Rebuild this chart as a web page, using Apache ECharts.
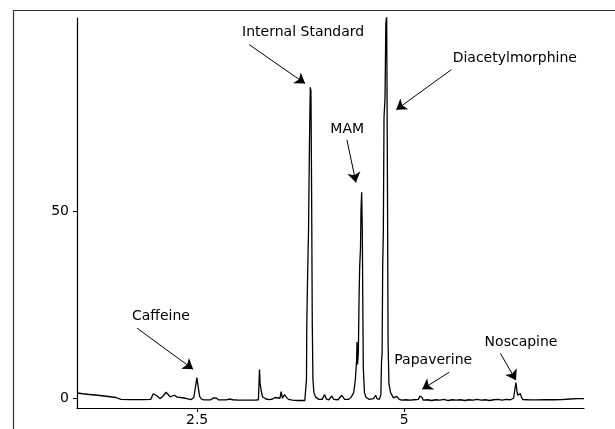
<!DOCTYPE html>
<html>
<head>
<meta charset="utf-8">
<script src="https://cdn.jsdelivr.net/npm/echarts@6/dist/echarts.min.js"></script>
<style>
  html, body { margin: 0; padding: 0; background: #fff; }
  #main { width: 615px; height: 429px; }
</style>
</head>
<body>
<div id="main"></div>
<script>
// retention time (min) and detector response
const times = [
  1.05, 1.12, 1.20, 1.30, 1.38, 1.45, 1.52, 1.58, 1.70, 1.85, 1.94, 1.97, 1.99, 2.02, 2.05, 2.09,
  2.125, 2.15, 2.175, 2.20, 2.225, 2.26, 2.30, 2.36, 2.43, 2.46, 2.48, 2.497, 2.51, 2.53, 2.55, 2.58,
  2.66, 2.70, 2.717, 2.735, 2.76, 2.85, 2.89, 2.907, 2.93, 3.00, 3.10, 3.20, 3.24, 3.247, 3.253, 3.26,
  3.275, 3.29, 3.33, 3.373, 3.41, 3.44, 3.462, 3.50, 3.514, 3.53, 3.554, 3.575, 3.603, 3.65, 3.72, 3.80,
  3.815, 3.820, 3.824, 3.834, 3.845, 3.856, 3.866, 3.874, 3.882, 3.890, 3.898, 3.91, 3.93, 3.97, 4.01,
  4.038, 4.06, 4.09, 4.125, 4.15, 4.20, 4.247, 4.28, 4.33, 4.36, 4.39, 4.41, 4.425, 4.43, 4.436, 4.446,
  4.455, 4.462, 4.472, 4.478, 4.486, 4.494, 4.50, 4.506, 4.52, 4.54, 4.58, 4.63, 4.655, 4.67, 4.70,
  4.718, 4.726, 4.733, 4.740, 4.748, 4.756, 4.768, 4.778, 4.788, 4.797, 4.805, 4.815, 4.835, 4.87, 4.91,
  4.94, 4.97, 5.02, 5.07, 5.12, 5.17, 5.19, 5.20, 5.215, 5.23, 5.28, 5.33, 5.38, 5.43, 5.48, 5.53, 5.58,
  5.63, 5.68, 5.73, 5.78, 5.83, 5.88, 5.93, 5.98, 6.03, 6.08, 6.13, 6.18, 6.23, 6.28, 6.32, 6.34, 6.349,
  6.36, 6.37, 6.385, 6.40, 6.415, 6.43, 6.50, 6.60, 6.70, 6.80, 6.90, 7.00, 7.10, 7.17
];
const response = [
  1.4, 1.2, 1.0, 0.8, 0.6, 0.4, 0.2, -0.3, -0.35, -0.35, -0.3, 1.2, 1.5, 0.6, -0.1, 0.6,
  1.6, 1.0, 0.35, 0.6, 0.8, 0.3, 0.2, 0.0, -0.35, 0.2, 3.0, 5.5, 3.5, 0.5, -0.2, -0.45,
  -0.45, 0.1, 0.4, 0.0, -0.45, -0.45, -0.2, 0.0, -0.4, -0.5, -0.5, -0.5, -0.4, 4.0, 7.7, 4.0,
  1.8, 0.4, -0.2, -0.35, -0.2, 0.2, -0.3, 0.0, 1.8, 0.0, 1.0, 0.3, -0.3, -0.5, -0.6, -0.6,
  -0.5, 5, 20, 33, 45, 68, 83, 82, 55, 20, 5, 1.5, 0.3, -0.3, -0.3,
  1.0, -0.2, -0.4, 0.6, -0.3, -0.4, 0.8, -0.3, -0.3, 0.3, 1.5, 5, 10, 15, 9, 12,
  27, 35, 40, 50, 55, 45, 25, 8, 1.5, 0.2, -0.3, -0.1, 0.8, -0.1, -0.3,
  1, 10, 12, 35, 45, 75, 80, 100, 102, 60, 15, 4, 1.5, 0.1, 0.5,
  -0.3, -0.5, -0.4, -0.5, -0.4, -0.3, 0.6, 1.1, 0.2, -0.5, -0.4, -0.6, -0.4, -0.5, -0.3, -0.6, -0.4,
  -0.5, -0.4, -0.6, -0.4, -0.5, -0.3, -0.5, -0.4, -0.6, -0.4, -0.3, -0.5, -0.3, -0.4, 0.0, 3.0, 4.2,
  2.0, 0.8, 0.9, 1.25, 0.3, -0.35, -0.4, -0.45, -0.4, -0.4, -0.35, -0.2, -0.1, -0.1
];

const xTicks = [2.5, 5];
const yTicks = [0, 50];

// peak labels: name, label centre, arrow tail, arrow head (data units)
const peakNames = ['Internal Standard', 'Diacetylmorphine', 'MAM', 'Caffeine', 'Papaverine', 'Noscapine'];
const labelAt = [[3.78, 97.6], [6.335, 90.6], [4.312, 71.9], [2.063, 21.9], [5.35, 10.2], [6.41, 15.0]];
const arrowFrom = [[3.128, 94.4], [5.568, 87.7], [4.308, 69.0], [1.775, 18.7], [5.543, 6.95], [6.16, 12.0]];
const arrowTo = [[3.804, 84.0], [4.903, 77.0], [4.417, 57.6], [2.452, 7.75], [5.217, 2.4], [6.349, 4.8]];

(function () {
    let myChart = echarts.init(document.getElementById('main'));
    const font = '"DejaVu Sans", sans-serif';

    let option = {
        animation: false,
        backgroundColor: '#fff',
        grid: {
            left: 77,
            right: 31,
            top: 18,
            bottom: 21,
            containLabel: false
        },
        xAxis: {
            type: 'value',
            min: 1.05,
            max: 7.17,
            axisLine: {
                onZero: false,
                lineStyle: { color: '#000', width: 1.2 }
            },
            axisTick: {
                customValues: xTicks,
                length: 4,
                lineStyle: { color: '#000' }
            },
            axisLabel: {
                customValues: xTicks,
                margin: 5,
                color: '#000',
                fontSize: 14,
                fontFamily: font
            },
            splitLine: { show: false }
        },
        yAxis: {
            type: 'value',
            min: -2.6,
            max: 101.5,
            axisLine: {
                show: true,
                lineStyle: { color: '#000', width: 1.2 }
            },
            axisTick: {
                show: true,
                customValues: yTicks,
                length: 4,
                lineStyle: { color: '#000' }
            },
            axisLabel: {
                customValues: yTicks,
                margin: 8,
                color: '#000',
                fontSize: 14,
                fontFamily: font
            },
            splitLine: { show: false }
        },
        series: [{
            type: 'line',
            data: times.map((t, i) => [t, response[i]]),
            showSymbol: false,
            symbol: 'none',
            lineStyle: { color: '#000', width: 1.3 },
            silent: true,
            markLine: {
                silent: true,
                symbol: ['none', 'arrow'],
                symbolSize: 10,
                label: { show: false },
                lineStyle: { color: '#000', width: 1, type: 'solid' },
                data: arrowFrom.map((p, i) => [{ coord: p }, { coord: arrowTo[i] }])
            },
            markPoint: {
                silent: true,
                symbol: 'circle',
                symbolSize: 1,
                itemStyle: { color: 'rgba(0,0,0,0)' },
                label: {
                    show: true,
                    position: 'inside',
                    formatter: '{b}',
                    color: '#000',
                    fontSize: 14,
                    fontFamily: font
                },
                data: peakNames.map((n, i) => ({ name: n, coord: labelAt[i] }))
            }
        }],
        graphic: [{
            type: 'rect',
            silent: true,
            shape: { x: 13.5, y: 10.5, width: 620, height: 440 },
            style: { fill: 'none', stroke: '#333', lineWidth: 1.2 }
        }]
    };
    myChart.setOption(option);

    window.addEventListener('resize', function () {
        myChart.resize();
    })
})();
</script>
</body>
</html>
